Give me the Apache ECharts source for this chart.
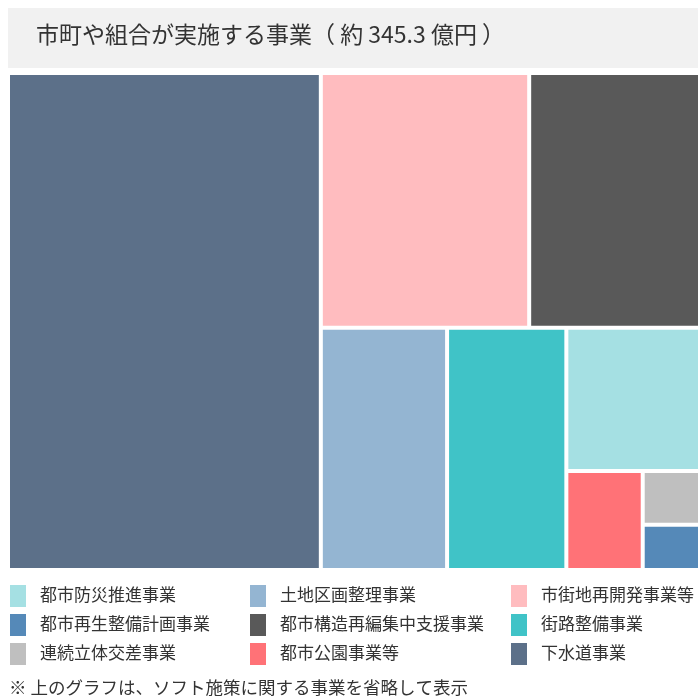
<!DOCTYPE html>
<html style="height: 100%; margin: 0;">
<head>
<meta charset="utf-8" />
<title></title>
<script src="https://cdn.jsdelivr.net/npm/echarts@6/dist/echarts.min.js"></script>
</head>
<body style="height: 100%; margin: 0; background: #fff;">
<div id="main" style="width: 698px; height: 698px;"></div>
<script type="text/javascript">
// 億円
var names = ['下水道事業', '市街地再開発事業等', '都市構造再編集中支援事業', '土地区画整理事業', '街路整備事業', '都市防災推進事業', '都市公園事業等', '連続立体交差事業', '都市再生整備計画事業'];
var values = [156.1, 53.3, 43.7, 30.7, 29.0, 19.2, 7.6, 3.1, 2.6];
var colors = ['#5c7089', '#ffbcbf', '#595959', '#94b5d2', '#40c3c7', '#a5e0e3', '#ff7277', '#bfbfbf', '#5589b8'];
// 凡例の並び順
var legendOrder = ['都市防災推進事業', '土地区画整理事業', '市街地再開発事業等', '都市再生整備計画事業', '都市構造再編集中支援事業', '街路整備事業', '連続立体交差事業', '都市公園事業等', '下水道事業'];
var titleText = '市町や組合が実施する事業（ 約 345.3 億円 ）';
var noteText = '※ 上のグラフは、ソフト施策に関する事業を省略して表示';

var FONT = '"Noto Sans CJK JP", "Noto Sans", sans-serif';
var myChart = echarts.init(document.getElementById('main'));

var data = [];
for (var i = 0; i < names.length; i++) {
	data.push({ name: names[i], value: values[i], itemStyle: { color: colors[i] } });
}

var graphics = [
	{ type: 'rect', left: 8, top: 8, shape: { width: 690, height: 60 }, style: { fill: '#f1f1f1' }, z: 0 },
	{ type: 'text', left: 36, top: 23, style: { text: titleText, font: '23px ' + FONT, fill: '#333' } }
];
var colX = [10, 250, 511];
var rowY = [585, 614, 643];
for (var k = 0; k < legendOrder.length; k++) {
	var c = k % 3, r = Math.floor(k / 3);
	var col = colors[names.indexOf(legendOrder[k])];
	graphics.push({ type: 'rect', left: colX[c], top: rowY[r], shape: { width: 16, height: 22 }, style: { fill: col } });
	graphics.push({ type: 'text', left: colX[c] + 30, top: rowY[r] + 1, style: { text: legendOrder[k], font: '17px ' + FONT, fill: '#333' } });
}
graphics.push({ type: 'text', left: 9, top: 679, style: { text: noteText, font: '17.5px ' + FONT, fill: '#333' } });

myChart.setOption({
	animation: false,
	graphic: graphics,
	series: [{
		type: 'treemap',
		left: 10,
		top: 75,
		width: 688,
		height: 493,
		roam: false,
		nodeClick: false,
		squareRatio: 1,
		breadcrumb: { show: false },
		label: { show: false },
		itemStyle: { borderWidth: 0, gapWidth: 4 },
		levels: [{ itemStyle: { borderWidth: 0, gapWidth: 4 } }],
		data: data
	}]
});
window.onresize = myChart.resize;
</script>
</body>
</html>
